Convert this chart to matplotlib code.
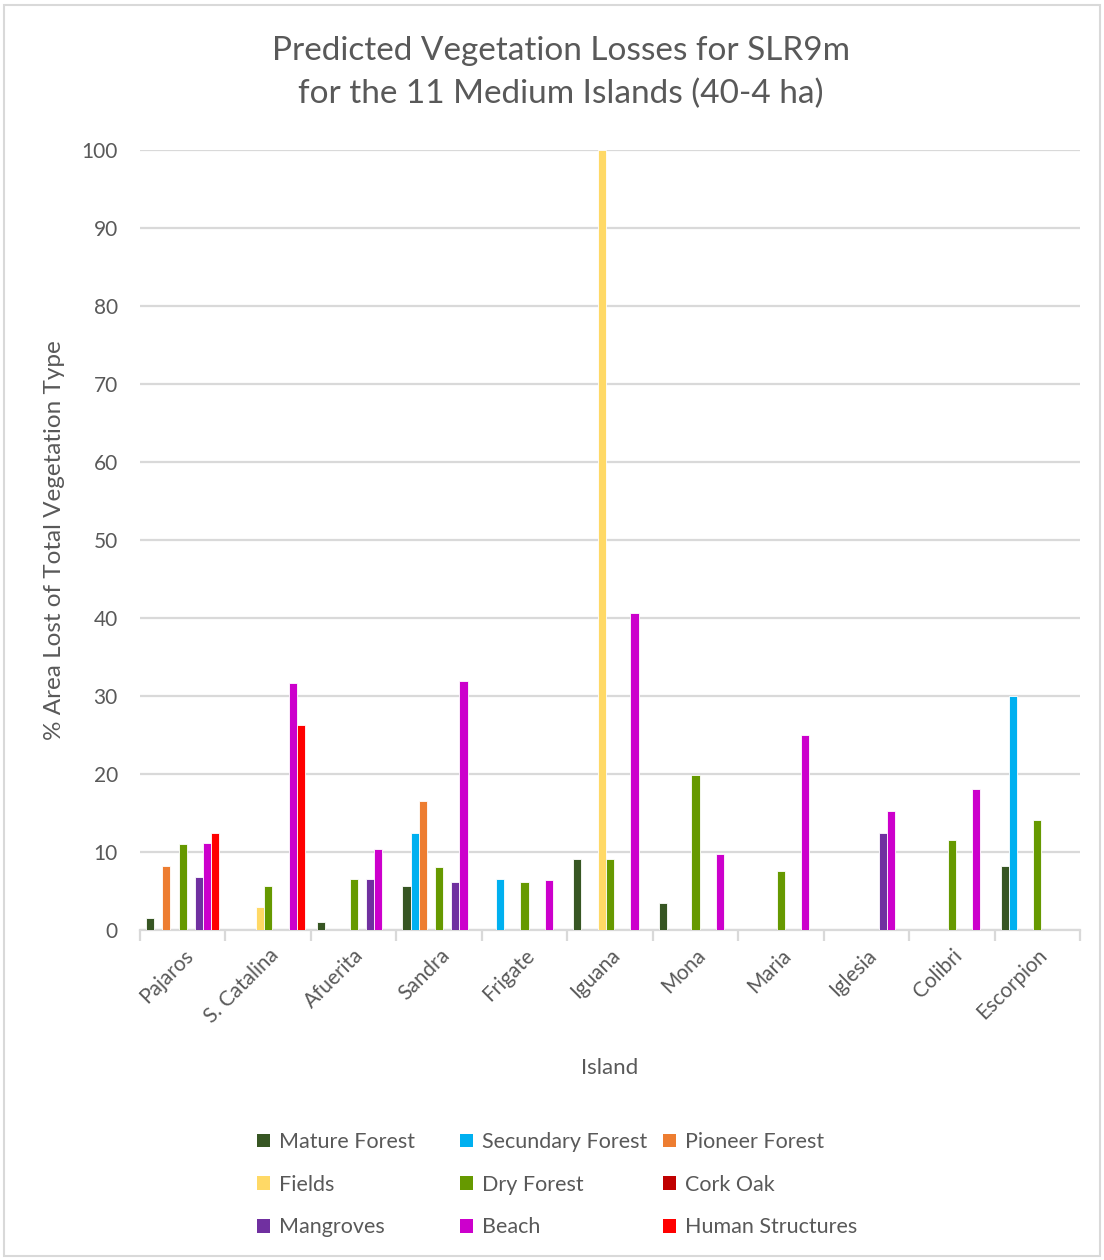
import matplotlib
matplotlib.use("Agg")
import matplotlib.pyplot as plt
import numpy as np
from matplotlib.patches import Rectangle, Patch

plt.rcParams["font.family"] = ["Lato", "DejaVu Sans"]

islands = ["Pajaros", "S. Catalina", "Afuerita", "Sandra", "Frigate", "Iguana",
           "Mona", "Maria", "Iglesia", "Colibri", "Escorpion"]

series = ["Mature Forest", "Secundary Forest", "Pioneer Forest", "Fields", "Dry Forest",
          "Cork Oak", "Mangroves", "Beach", "Human Structures"]

mature_forest = [1.6, 0, 1.0, 5.6, 0, 9.1, 3.5, 0, 0, 0, 8.2]
secundary_forest = [0, 0, 0, 12.5, 6.6, 0, 0, 0, 0, 0, 30.0]
pioneer_forest = [8.2, 0, 0, 16.6, 0, 0, 0, 0, 0, 0, 0]
fields = [0, 3.0, 0, 0, 0, 100.0, 0, 0, 0, 0, 0]
dry_forest = [11.0, 5.7, 6.6, 8.1, 6.1, 9.1, 19.9, 7.6, 0, 11.6, 14.1]
cork_oak = [0, 0, 0, 0, 0, 0, 0, 0, 0, 0, 0]
mangroves = [6.8, 0, 6.6, 6.1, 0, 0, 0, 0, 12.5, 0, 0]
beach = [11.2, 31.7, 10.4, 31.9, 6.4, 40.7, 9.8, 25.0, 15.3, 18.1, 0]
human_structures = [12.5, 26.3, 0, 0, 0, 0, 0, 0, 0, 0, 0]

values = [mature_forest, secundary_forest, pioneer_forest, fields, dry_forest,
          cork_oak, mangroves, beach, human_structures]
colors = ["#375623", "#00B0F0", "#ED7D31", "#FFD966", "#669900",
          "#C00000", "#7030A0", "#CC00CC", "#FF0000"]

text_color = "#595959"
grid_color = "#D9D9D9"

fig = plt.figure(figsize=(11.04, 12.6), dpi=100)
ax = fig.add_axes([140 / 1104, 1 - 930 / 1260, 940 / 1104, 780 / 1260])

x = np.arange(len(islands))
width = 0.0955
for i, (vals, col) in enumerate(zip(values, colors)):
    offs = (i - 4) * width
    ax.bar(x + offs, vals, width, color=col, edgecolor="white", linewidth=0.6, zorder=3)

ax.set_xlim(-0.5, len(islands) - 0.5)
ax.set_ylim(0, 100)
ax.set_yticks(np.arange(0, 101, 10))
ax.yaxis.grid(True, color=grid_color, linewidth=1.6, zorder=0)
ax.tick_params(axis="y", length=0, pad=16, labelsize=15, labelcolor=text_color)

for s in ["top", "right", "left"]:
    ax.spines[s].set_visible(False)
ax.spines["bottom"].set_color(grid_color)
ax.spines["bottom"].set_linewidth(1.6)

ax.set_xticks(x)
ax.set_xticklabels(islands, rotation=45, ha="right", rotation_mode="anchor")
ax.set_xticks(np.arange(-0.5, len(islands), 1), minor=True)
ax.tick_params(axis="x", which="major", length=0, pad=11, labelsize=15, labelcolor=text_color)
ax.tick_params(axis="x", which="minor", length=8, width=1.6, color=grid_color)

ax.set_xlabel("Island", fontsize=16, color=text_color, labelpad=22)
ax.set_ylabel("% Area Lost of Total Vegetation Type", fontsize=17.5, color=text_color, labelpad=12)

fig.text(0.508, 1 - 36 / 1260, "Predicted Vegetation Losses for SLR9m\nfor the 11 Medium Islands (40-4 ha)",
         ha="center", va="top", fontsize=24, color=text_color, linespacing=1.5)

# one legend per column so the columns sit at fixed positions
handles = [Patch(facecolor=c, label=s) for s, c in zip(series, colors)]
col_x = [242, 445, 648]
for c, lx in enumerate(col_x):
    idx = [c, c + 3, c + 6]
    leg = fig.legend([handles[k] for k in idx], [series[k] for k in idx],
                     loc="upper left", bbox_to_anchor=(lx / 1104, 1 - 1117 / 1260),
                     frameon=False, fontsize=15.5, labelcolor=text_color,
                     handlelength=0.6, handleheight=0.6, handletextpad=0.4,
                     labelspacing=1.05, borderpad=0.2)

fig.add_artist(Rectangle((0.004, 0.003), 0.992, 0.993, transform=fig.transFigure,
                         fill=False, edgecolor=grid_color, linewidth=1.5))

fig.savefig("out.png", dpi=100)
